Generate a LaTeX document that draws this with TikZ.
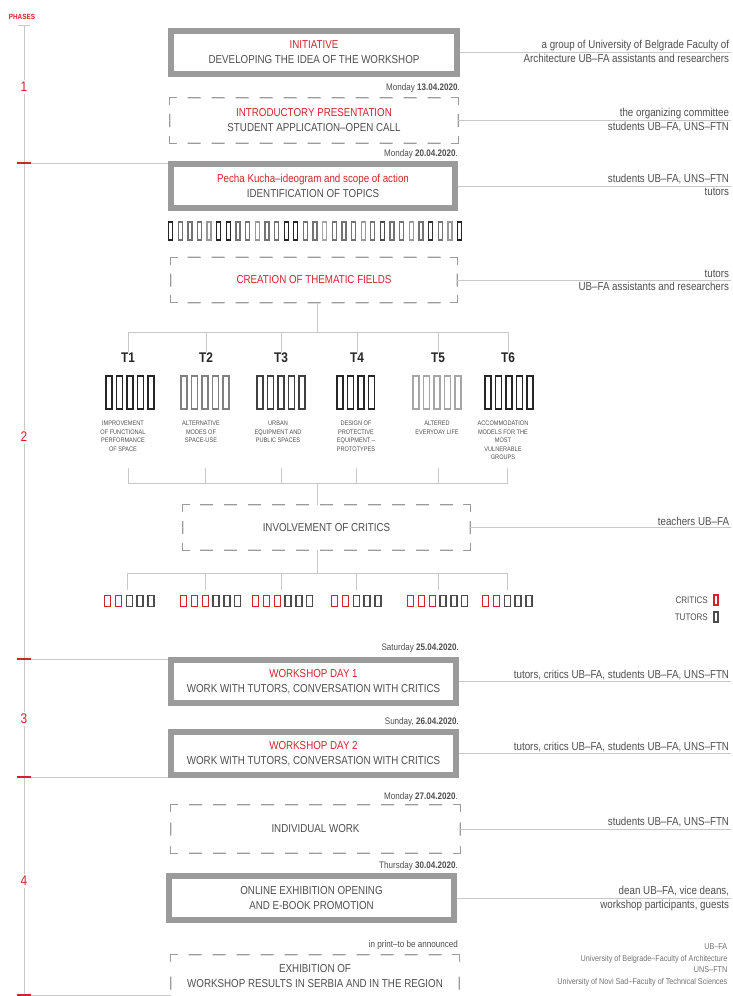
\documentclass[tikz,border=0pt]{standalone}
\usepackage{fontspec}
\setmainfont{Liberation Sans}[FakeStretch=0.85]
\usepackage{xcolor}
\usepackage{tikz}
\usetikzlibrary{positioning, calc}

\definecolor{phasered}{RGB}{210,35,42}
\definecolor{inkgray}{RGB}{77,77,77}
\definecolor{framegray}{RGB}{155,155,155}
\definecolor{linegray}{RGB}{200,200,200}

\newcommand{\hl}[1]{\textcolor{phasered}{#1}}

\tikzset{
  solidbox/.style={draw=framegray, line width=6pt, minimum width=285pt, minimum height=43pt, align=center, inner sep=0pt, text=inkgray, font=\fontsize{11.5}{15}\selectfont},
  dashbox/.style={minimum width=288pt, minimum height=45pt, align=center, inner sep=0pt, text=inkgray, font=\fontsize{11.5}{15}\selectfont},
  frameline/.style={draw=framegray, line width=1.3pt, line cap=rect},
  dashside/.style={draw=framegray, line width=1.3pt, dash pattern=on 13pt off 11pt, dash phase=6.5pt},
  link/.style={draw=linegray, line width=0.9pt},
  who/.style={font=\fontsize{11.5}{14}\selectfont, text=inkgray, inner sep=1.5pt, align=right},
  datetag/.style={font=\fontsize{9.5}{11}\selectfont, text=inkgray, anchor=east, inner sep=0pt},
  topic/.style={font=\fontsize{6.6}{8.5}\selectfont, text=inkgray, align=center, anchor=north, inner sep=0pt},
  tlabel/.style={font=\bfseries\fontsize{14}{14}\selectfont, text=black!85, inner sep=1pt},
  phasenum/.style={text=phasered, fill=white, font=\fontsize{14}{14}\selectfont, inner sep=2pt},
  redtick/.style={draw=phasered, line width=2pt},
}

% dashed frame with closed corners
\newcommand{\dashframe}[1]{%
  \foreach \a/\b in {north west/north east, north east/south east, south east/south west, south west/north west} {
    \draw[dashside] ($(#1.\a)!0.5!(#1.\b)$) -- ($(#1.\a)!14pt!(#1.\b)$);
    \draw[dashside] ($(#1.\a)!0.5!(#1.\b)$) -- ($(#1.\b)!14pt!(#1.\a)$);
    \draw[frameline] ($(#1.\a)!7pt!(#1.\b)$) -- (#1.\a);
    \draw[frameline] ($(#1.\b)!7pt!(#1.\a)$) -- (#1.\b);
  }%
}

\begin{document}
\begin{tikzpicture}[x=1pt, y=-1pt]
  \useasboundingbox (0,0) rectangle (732,996);
  \coordinate (edge) at (731,0);

  % phase line
  \node[text=phasered, font=\bfseries\fontsize{7.5}{8}\selectfont, inner sep=0pt] (phases) at (22,17) {PHASES};
  \draw[link] (18,25) -- (30,25);
  \draw[link] (24,25) -- (24,996);
  \coordinate (p2) at (24,163);
  \coordinate (p3) at (24,659);
  \coordinate (p4) at (24,777);
  \coordinate (p5) at (24,995);

  % boxes
  \node[solidbox, minimum width=286pt] (init) at (314,52.5) {\hl{INITIATIVE}\\DEVELOPING THE IDEA OF THE WORKSHOP};
  \node[dashbox] (intro) at (314,120.5) {\hl{INTRODUCTORY PRESENTATION}\\STUDENT APPLICATION--OPEN CALL};
  \node[solidbox, minimum width=284pt, minimum height=44pt] (pecha) at (313,186) {\hl{Pecha Kucha--ideogram and scope of action}\\IDENTIFICATION OF TOPICS};
  \node[dashbox, minimum width=286pt] (themes) at (314,280) {\hl{CREATION OF THEMATIC FIELDS}};
  \node[dashbox, minimum width=287pt] (critics) at (326.5,527.5) {INVOLVEMENT OF CRITICS};
  \node[solidbox] (day1) at (313.5,681.5) {\hl{WORKSHOP DAY 1}\\WORK WITH TUTORS, CONVERSATION WITH CRITICS};
  \node[solidbox] (day2) at (313.5,753.5) {\hl{WORKSHOP DAY 2}\\WORK WITH TUTORS, CONVERSATION WITH CRITICS};
  \node[dashbox, minimum width=289pt, minimum height=48pt] (indiv) at (315.5,829) {INDIVIDUAL WORK};
  \node[solidbox, minimum height=44pt] (online) at (311.5,898) {ONLINE EXHIBITION OPENING\\AND E-BOOK PROMOTION};
  \node[dashbox, minimum height=56pt] (exhib) at (315,983) {EXHIBITION OF\\WORKSHOP RESULTS IN SERBIA AND IN THE REGION\\\mbox{}};
  \foreach \n in {intro, themes, critics, indiv, exhib} {\dashframe{\n}}

  % dates
  \node[datetag] (d13) at (460,88) {Monday \textbf{13.04.2020}.};
  \node[datetag] (d20) at (458,154) {Monday \textbf{20.04.2020}.};
  \node[datetag] (d25) at (459,648) {Saturday \textbf{25.04.2020}.};
  \node[datetag] (d26) at (459,722) {Sunday, \textbf{26.04.2020}.};
  \node[datetag] (d27) at (458,797) {Monday \textbf{27.04.2020}.};
  \node[datetag] (d30) at (458,866) {Thursday \textbf{30.04.2020}.};
  \node[datetag] (dprint) at (458,945) {in print--to be announced};

  % who takes part
  \draw[link] (init.east) -- (init.east -| edge)
    node[who, anchor=south east] (w1a) {a group of University of Belgrade Faculty of}
    node[who, anchor=north east] (w1b) {Architecture UB--FA assistants and researchers};
  \draw[link] (intro.east) -- (intro.east -| edge)
    node[who, anchor=south east] (w2a) {the organizing committee}
    node[who, anchor=north east] (w2b) {students UB--FA, UNS--FTN};
  \draw[link] (pecha.east) -- (pecha.east -| edge)
    node[who, anchor=south east] (w3a) {students UB--FA, UNS--FTN}
    node[who, anchor=north east] (w3b) {tutors};
  \draw[link] (themes.east) -- (themes.east -| edge)
    node[who, anchor=south east] (w4a) {tutors}
    node[who, anchor=north east] (w4b) {UB--FA assistants and researchers};
  \draw[link] (critics.east) -- (critics.east -| edge)
    node[who, anchor=south east] (w5) {teachers UB--FA};
  \draw[link] (day1.east) -- (day1.east -| edge)
    node[who, anchor=south east] (w6) {tutors, critics UB--FA, students UB--FA, UNS--FTN};
  \draw[link] (day2.east) -- (day2.east -| edge)
    node[who, anchor=south east] (w7) {tutors, critics UB--FA, students UB--FA, UNS--FTN};
  \draw[link] (indiv.east) -- (indiv.east -| edge)
    node[who, anchor=south east] (w8) {students UB--FA, UNS--FTN};
  \draw[link] (online.east) -- (online.east -| edge)
    node[who, anchor=south east] (w9a) {dean UB--FA, vice deans,}
    node[who, anchor=north east] (w9b) {workshop participants, guests};
  \node[who, anchor=north east, font=\fontsize{8.5}{11.7}\selectfont, text=inkgray!80] (credits) at (729,942)
    {UB--FA\\University of Belgrade--Faculty of Architecture\\UNS--FTN\\University of Novi Sad--Faculty of Technical Sciences};

  % ideogram bars
  \foreach \c [count=\i from 0] in {85,55,55,55,40,85,85,55,55,40,55,55,85,85,55,55,35,55,55,55,40,55,70,55,55,40,55,80,55,40,85}
    \draw[draw=black!\c, line width=1.3pt] ({168.6+\i*9.63},222) rectangle ++(4,18);

  % thematic fields
  \coordinate (fork) at (317,332);
  \draw[link] (fork |- themes.south) -- (fork);
  \foreach \x [count=\i] in {128,206,281,357,438,508}
    \node[tlabel] (t\i) at (\x,358) {T\i};
  \foreach \i in {1,...,6}
    \draw[link] (fork) -| (t\i.north);
  \foreach \x/\n/\c in {105/5/85, 180/5/50, 256/5/75, 336/4/85, 412/5/35, 484/5/85}
    \foreach \k in {1,...,\n}
      \draw[draw=black!\c, line width=1.5pt] ({\x+0.75+(\k-1)*10.6},376) rectangle ++(6,33);
  \node[topic] (f1) at (123,421) {IMPROVEMENT\\OF FUNCTIONAL\\PERFORMANCE\\OF SPACE};
  \node[topic] (f2) at (201,421) {ALTERNATIVE\\MODES OF\\SPACE-USE};
  \node[topic] (f3) at (278,421) {URBAN\\EQUIPMENT AND\\PUBLIC SPACES};
  \node[topic] (f4) at (356,421) {DESIGN OF\\PROTECTIVE\\EQUIPMENT --\\PROTOTYPES};
  \node[topic] (f5) at (437,421) {ALTERED\\EVERYDAY LIFE};
  \node[topic] (f6) at (503,421) {ACCOMMODATION\\MODELS FOR THE\\MOST\\VULNERABLE\\GROUPS};

  \coordinate (join) at (317,483);
  \foreach \x [count=\i] in {128,205,281,356,438,507} {
    \coordinate (up\i) at (\x,468);
    \draw[link] (up\i) |- (join);
  }
  \draw[link] (join) -- (join |- critics.north);

  % critics and tutors per field
  \coordinate (fork2) at (317,573);
  \draw[link] (fork2 |- critics.south) -- (fork2);
  \foreach \x [count=\i] in {127,205,281,356,438,507} {
    \coordinate (low\i) at (\x,590);
    \draw[link] (fork2) -| (low\i);
  }
  \foreach \x/\r/\g in {104/2/3, 180/3/3, 252/3/3, 331/2/3, 407/3/3, 482/2/3} {
    \foreach \k in {1,...,\r}
      \draw[draw=phasered, line width=1.4pt] ({\x+0.7+(\k-1)*10.8},595.7) rectangle ++(6,10.6);
    \foreach \k in {1,...,\g}
      \draw[draw=black!70, line width=1.4pt] ({\x+0.7+(\r+\k-1)*10.8},595.7) rectangle ++(6,10.6);
  }
  \node[anchor=east, inner sep=0pt, text=inkgray, font=\fontsize{9.5}{10}\selectfont] (legc) at (708,600) {CRITICS};
  \node[anchor=east, inner sep=0pt, text=inkgray, font=\fontsize{9.5}{10}\selectfont] (legt) at (708,617) {TUTORS};
  \draw[draw=phasered, line width=1.3pt] (714,595) rectangle ++(4,10);
  \draw[draw=black!70, line width=1.3pt] (714,612) rectangle ++(4,10);

  % phase borders
  \draw[link] (p2) -- (p2 -| pecha.west);
  \draw[link] (p3) -- (p3 -| day1.west);
  \draw[link] (p4) -- (p4 -| day2.west);
  \draw[link] (p5) -- (p5 -| exhib.west);
  \foreach \p in {p2,p3,p4,p5}
    \draw[redtick] ([xshift=-7pt]\p) -- ([xshift=7pt]\p);
  \node[phasenum] (n1) at (24,87) {1};
  \node[phasenum] (n2) at (24,437) {2};
  \node[phasenum] (n3) at (24,719) {3};
  \node[phasenum] (n4) at (24,881) {4};
\end{tikzpicture}
\end{document}
